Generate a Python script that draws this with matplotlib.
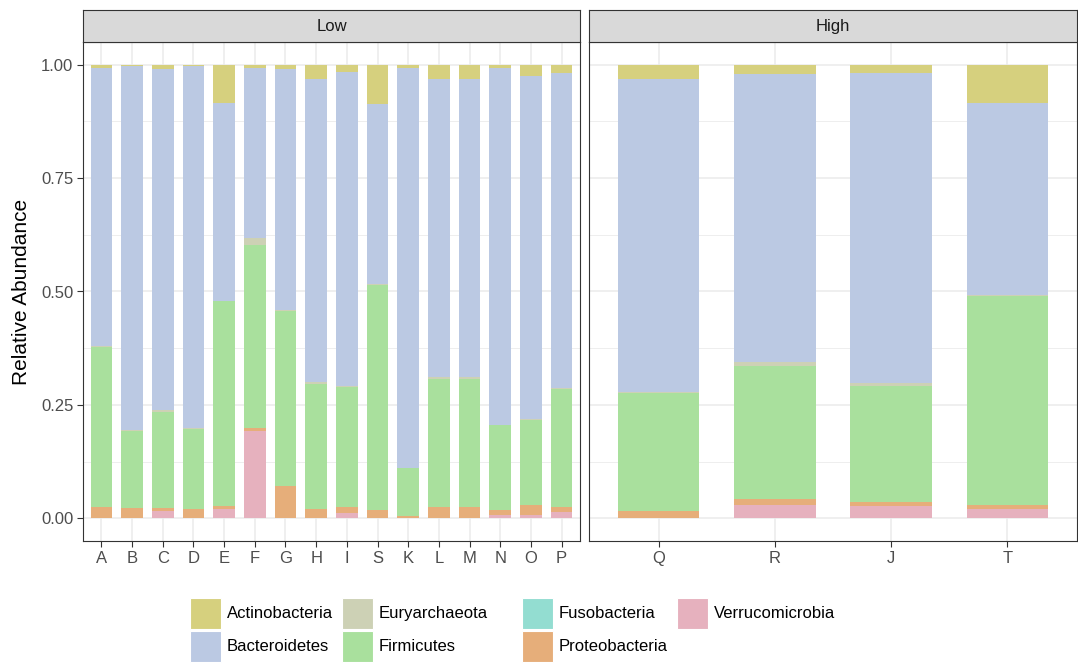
import numpy as np
import matplotlib
matplotlib.use('Agg')
import matplotlib.pyplot as plt
from matplotlib.patches import Rectangle

plt.rcParams['font.family'] = ['Liberation Sans', 'DejaVu Sans']

# samples per facet
low_samples = ['A', 'B', 'C', 'D', 'E', 'F', 'G', 'H', 'I', 'S', 'K', 'L', 'M', 'N', 'O', 'P']
high_samples = ['Q', 'R', 'J', 'T']

phyla = ['Actinobacteria', 'Bacteroidetes', 'Euryarchaeota', 'Firmicutes',
         'Fusobacteria', 'Proteobacteria', 'Verrucomicrobia']
colors = ['#D6D07E', '#BBC9E3', '#CDD1B5', '#A9E09D', '#93DDD1', '#E6AE7A', '#E6B1BE']

# relative abundance, low samples then high samples
actinobacteria = [.007, .002, .010, .002, .084, .007, .010, .032, .016, .086, .007, .031, .031, .008, .026, .018,
                  .031, .020, .018, .084]
bacteroidetes = [.613, .804, .752, .800, .436, .374, .531, .668, .692, .398, .881, .657, .658, .786, .755, .694,
                 .691, .635, .684, .424]
euryarchaeota = [.002, .001, .003, .001, .002, .016, .002, .005, .002, .002, .001, .004, .004, .001, .003, .002,
                 .001, .009, .006, .002]
firmicutes = [.353, .171, .213, .177, .450, .405, .385, .274, .265, .496, .106, .283, .282, .186, .187, .260,
              .261, .294, .255, .461]
fusobacteria = [0.0] * 20
proteobacteria = [.025, .022, .006, .020, .008, .006, .072, .021, .013, .018, .005, .025, .025, .012, .021, .012,
                  .016, .012, .009, .009]
verrucomicrobia = [0, 0, .016, 0, .020, .192, 0, 0, .012, 0, 0, 0, 0, .007, .008, .014,
                   0, .030, .028, .020]

values = [actinobacteria, bacteroidetes, euryarchaeota, firmicutes,
          fusobacteria, proteobacteria, verrucomicrobia]

W, H = 1078, 663
fig = plt.figure(figsize=(W / 100, H / 100), dpi=100)

def px_axes(x0, y0, x1, y1):
    return fig.add_axes([x0 / W, 1 - y1 / H, (x1 - x0) / W, (y1 - y0) / H])

grid_col = '#EBEBEB'
text_col = '#4D4D4D'
border_col = '#333333'

panels = [('Low', low_samples, 0, 83, 580), ('High', high_samples, 16, 589, 1077)]
for name, samples, offset, x0, x1 in panels:
    ax = px_axes(x0, 42, x1, 541)
    n = len(samples)
    x = np.arange(n)
    bottom = np.zeros(n)
    # ggplot stacks the first factor level on top, so draw from the last one
    for ph, col, vals in reversed(list(zip(phyla, colors, values))):
        v = np.array(vals[offset:offset + n], dtype=float)
        ax.bar(x, v, width=0.7, bottom=bottom, color=col, linewidth=0, zorder=2)
        bottom += v
    ax.set_xlim(-0.6, n - 0.4)
    ax.set_ylim(-0.05, 1.05)
    ax.set_yticks([0, 0.25, 0.5, 0.75, 1.0])
    ax.set_yticks([0.125, 0.375, 0.625, 0.875], minor=True)
    ax.set_xticks(x)
    ax.set_xticklabels(samples)
    ax.grid(True, which='major', color=grid_col, linewidth=1.1, zorder=0)
    ax.grid(True, which='minor', axis='y', color=grid_col, linewidth=0.6, zorder=0)
    ax.set_axisbelow(True)
    for sp in ax.spines.values():
        sp.set_color(border_col)
        sp.set_linewidth(0.8)
    ax.tick_params(which='major', length=4, width=0.8, color=border_col,
                   labelcolor=text_col, labelsize=12, pad=3)
    ax.tick_params(which='minor', length=0)
    if offset == 0:
        ax.set_yticklabels(['0.00', '0.25', '0.50', '0.75', '1.00'])
        ax.set_ylabel('Relative Abundance', fontsize=15, color='black', labelpad=7)
    else:
        ax.set_yticklabels([])
        ax.tick_params(axis='y', length=0)

    strip = px_axes(x0, 10, x1, 42)
    strip.set_facecolor('#D9D9D9')
    strip.set_xticks([])
    strip.set_yticks([])
    for sp in strip.spines.values():
        sp.set_color(border_col)
        sp.set_linewidth(0.8)
    strip.text(0.5, 0.48, name, ha='center', va='center', fontsize=12, color='#1A1A1A',
               transform=strip.transAxes)

# legend laid out like ggplot's: two rows, filled by column
col_left = [190, 342, 522, 677]
row_top = [598, 631]
key = 31
for i, (ph, col) in enumerate(zip(phyla, colors)):
    kx = col_left[i // 2]
    ky = row_top[i % 2]
    fig.patches.append(Rectangle((kx / W, 1 - (ky + key) / H), key / W, key / H,
                                 facecolor=col, edgecolor='white', linewidth=0.8,
                                 transform=fig.transFigure))
    fig.text((kx + key + 6) / W, 1 - (ky + key / 2) / H, ph, ha='left', va='center',
             fontsize=12, color='black')

fig.savefig('out.png', dpi=100)
